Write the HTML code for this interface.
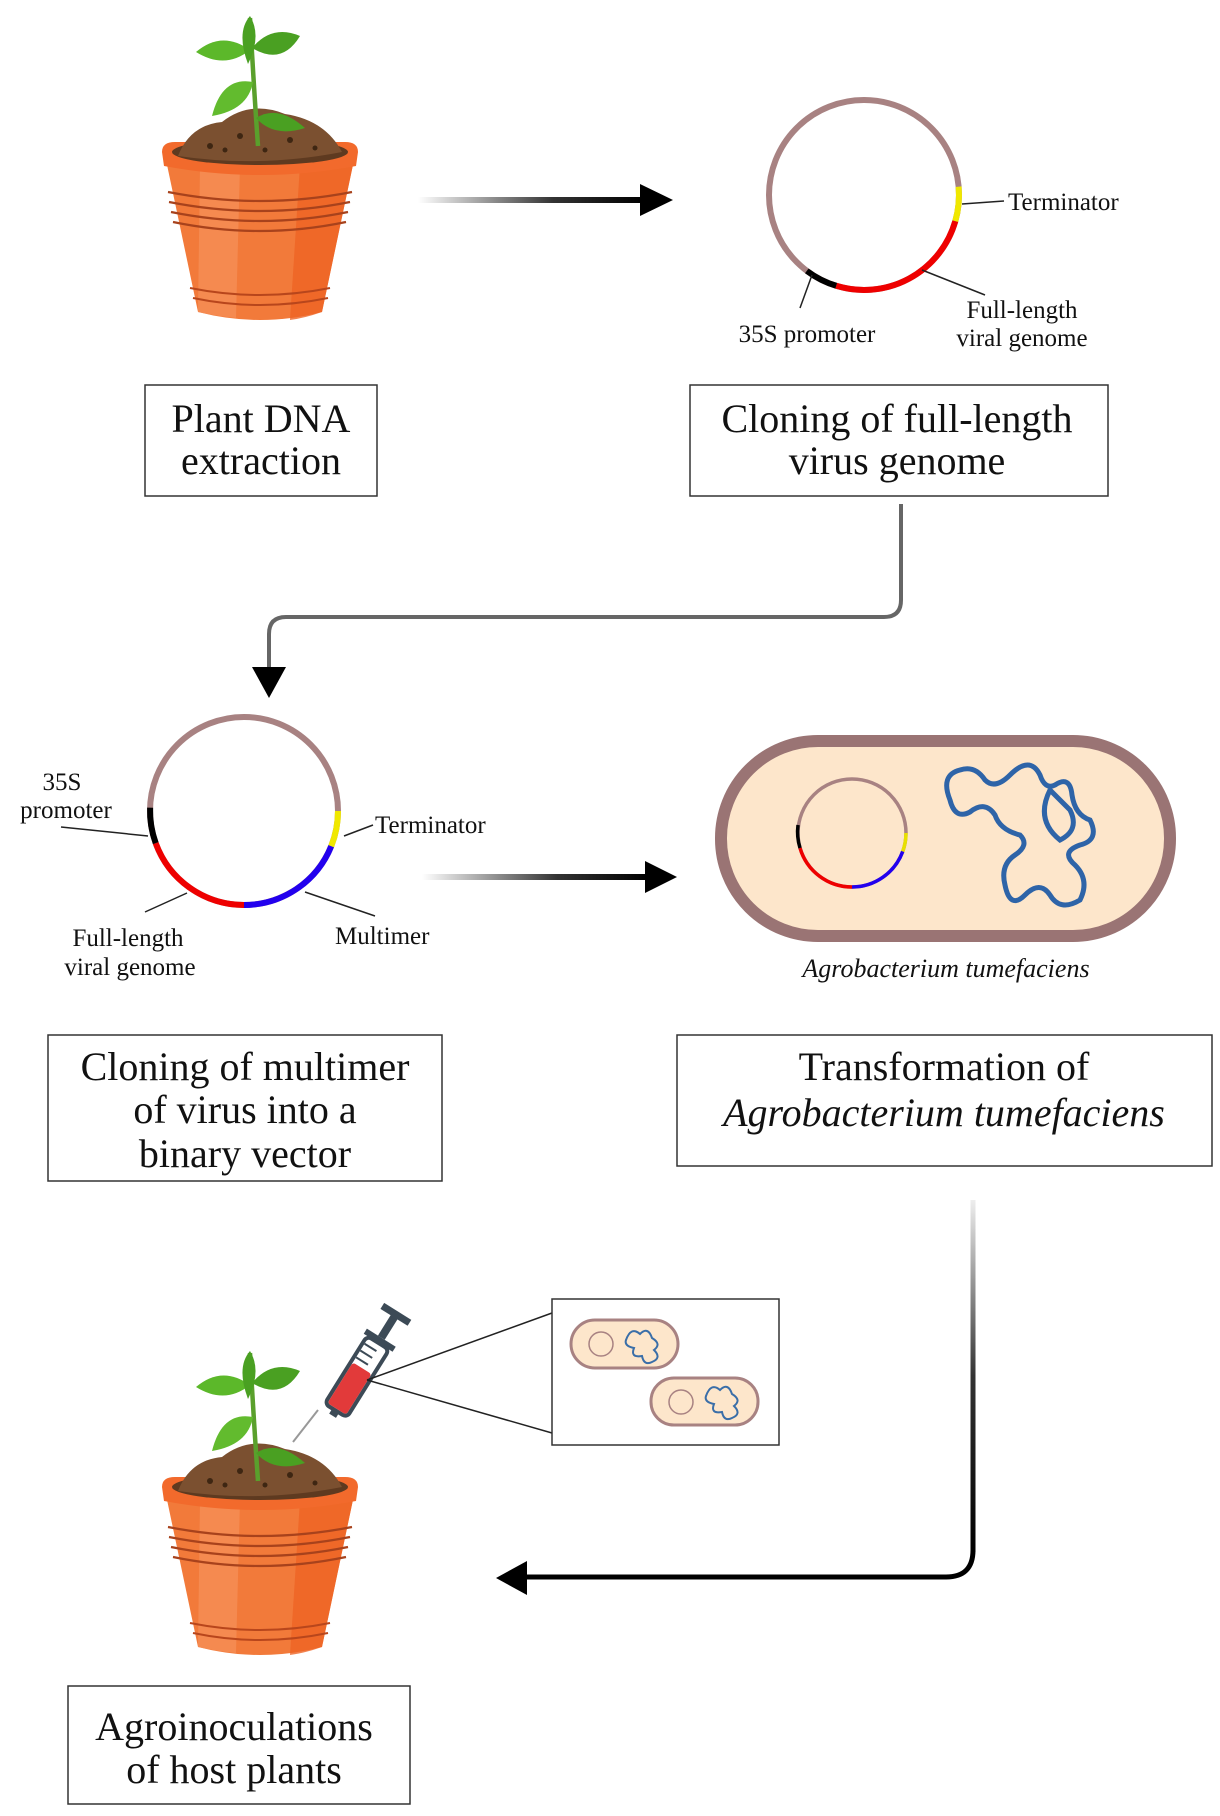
<!DOCTYPE html>
<html><head><meta charset="utf-8"><style>
html,body{margin:0;padding:0;background:#fff;}
svg{display:block;}
text{font-family:"Liberation Serif",serif;fill:#111;}
</style></head><body>
<svg width="1220" height="1816" viewBox="0 0 1220 1816" xmlns="http://www.w3.org/2000/svg">
<defs>
<linearGradient id="ga" x1="0" y1="0" x2="1" y2="0">
<stop offset="0" stop-color="#fff"/><stop offset="0.6" stop-color="#333"/><stop offset="1" stop-color="#000"/></linearGradient>
<linearGradient id="gv2" x1="0" y1="0" x2="0" y2="1">
<stop offset="0" stop-color="#eee"/><stop offset="0.5" stop-color="#333"/><stop offset="1" stop-color="#000"/></linearGradient>
<g id="pot">
<path d="M166,160 L354,160 L322,312 Q260,328 198,312 Z" fill="#f27a3a"/>
<path d="M200,165 L240,165 L236,318 Q215,316 198,312 Z" fill="#f6915a" opacity="0.7"/>
<path d="M300,165 L354,160 L322,312 Q305,318 290,320 Z" fill="#ee6424" opacity="0.8"/>
<path d="M168,192 Q260,210 352,192 M169,202 Q260,220 350,202 M171,212 Q260,230 348,212 M173,222 Q260,240 346,222" stroke="#a8421c" stroke-width="2.2" fill="none"/>
<path d="M190,288 Q260,302 330,288 M193,298 Q260,312 328,298" stroke="#b8461c" stroke-width="2" fill="none"/>
<path d="M162,152 Q162,142 175,142 L345,142 Q358,142 358,152 L356,166 Q260,184 164,166 Z" fill="#f26a2c"/>
<ellipse cx="260" cy="152" rx="88" ry="13" fill="#5e3a20"/>
<path d="M178,156 Q190,125 222,122 Q250,100 285,114 Q325,120 342,152 Q260,168 178,156 Z" fill="#7b5030"/>
<circle cx="210" cy="146" r="3" fill="#3e2612"/><circle cx="240" cy="136" r="3" fill="#3e2612"/><circle cx="290" cy="140" r="3" fill="#3e2612"/><circle cx="315" cy="148" r="2.5" fill="#3e2612"/><circle cx="265" cy="150" r="2.5" fill="#3e2612"/><circle cx="225" cy="150" r="2.5" fill="#3e2612"/>
<path d="M258,146 Q254,90 250,18" stroke="#5aa02c" stroke-width="4.5" fill="none"/>
<path d="M250,50 Q222,30 196,52 Q225,70 250,50 Z" fill="#5cb82a"/>
<path d="M252,48 Q272,24 300,36 Q282,66 252,48 Z" fill="#4aa022"/>
<path d="M250,16 Q236,32 248,64 Q262,36 250,16 Z" fill="#4aa022"/>
<path d="M253,82 Q222,76 212,116 Q248,110 253,82 Z" fill="#62bb2e"/>
<path d="M256,118 Q278,104 305,128 Q274,138 256,118 Z" fill="#4aa022"/>
</g>
</defs>

<use href="#pot"/>
<use href="#pot" transform="translate(0,1335)"/>

<!-- arrow 1 -->
<rect x="418" y="197" width="225" height="6" fill="url(#ga)"/>
<polygon points="640,184 673,200 640,216" fill="#000"/>

<!-- plasmid 1 -->
<circle cx="864" cy="195" r="95" fill="none" stroke="#a88282" stroke-width="6"/>
<path d="M958.6,186.7 A95,95 0 0 1 955.3,221.2" fill="none" stroke="#f0e800" stroke-width="6"/>
<path d="M955.3,221.2 A95,95 0 0 1 836.2,285.8" fill="none" stroke="#ee0000" stroke-width="6"/>
<path d="M836.2,285.8 A95,95 0 0 1 806.8,270.9" fill="none" stroke="#000" stroke-width="6"/>
<line x1="962" y1="204" x2="1004" y2="201" stroke="#222" stroke-width="1.5"/>
<line x1="812" y1="275" x2="800" y2="308" stroke="#222" stroke-width="1.5"/>
<line x1="922" y1="270" x2="985" y2="295" stroke="#222" stroke-width="1.5"/>
<text x="1008" y="210" font-size="25">Terminator</text>
<text x="807" y="342" font-size="25" text-anchor="middle">35S promoter</text>
<text x="1022" y="318" font-size="25" text-anchor="middle">Full-length</text>
<text x="1022" y="346" font-size="25" text-anchor="middle">viral genome</text>

<rect x="145" y="385" width="232" height="111" fill="none" stroke="#333" stroke-width="1.5"/>
<text x="261" y="432" font-size="40" text-anchor="middle">Plant DNA</text>
<text x="261" y="474" font-size="40" text-anchor="middle">extraction</text>
<rect x="690" y="385" width="418" height="111" fill="none" stroke="#333" stroke-width="1.5"/>
<text x="897" y="432" font-size="40" text-anchor="middle">Cloning of full-length</text>
<text x="897" y="474" font-size="40" text-anchor="middle">virus genome</text>

<!-- connector 2 -->
<path d="M901,504 L901,600 Q901,617 884,617 L286,617 Q269,617 269,634 L269,672" fill="none" stroke="#666" stroke-width="4"/>
<polygon points="252,667 286,667 269,698" fill="#000"/>

<!-- plasmid 2 -->
<circle cx="244" cy="811" r="94" fill="none" stroke="#a88282" stroke-width="6"/>
<path d="M338,811 A94,94 0 0 1 331.2,846.2" fill="none" stroke="#f0e800" stroke-width="6"/>
<path d="M331.2,846.2 A94,94 0 0 1 244,905" fill="none" stroke="#2200ee" stroke-width="6"/>
<path d="M244,905 A94,94 0 0 1 155.7,843.1" fill="none" stroke="#ee0000" stroke-width="6"/>
<path d="M155.7,843.1 A94,94 0 0 1 150.1,807.7" fill="none" stroke="#000" stroke-width="6"/>
<line x1="61" y1="827" x2="148" y2="836" stroke="#222" stroke-width="1.5"/>
<line x1="344" y1="836" x2="373" y2="825" stroke="#222" stroke-width="1.5"/>
<line x1="305" y1="892" x2="375" y2="916" stroke="#222" stroke-width="1.5"/>
<line x1="187" y1="893" x2="145" y2="912" stroke="#222" stroke-width="1.5"/>
<text x="62" y="790" font-size="25" text-anchor="middle">35S</text>
<text x="66" y="818" font-size="25" text-anchor="middle">promoter</text>
<text x="375" y="833" font-size="25">Terminator</text>
<text x="335" y="944" font-size="25">Multimer</text>
<text x="128" y="946" font-size="25" text-anchor="middle">Full-length</text>
<text x="130" y="975" font-size="25" text-anchor="middle">viral genome</text>

<!-- arrow 3 -->
<rect x="422" y="874" width="225" height="6" fill="url(#ga)"/>
<polygon points="645,861 677,877 645,893" fill="#000"/>

<!-- bacterium -->
<rect x="721" y="741" width="449" height="195" rx="97" fill="#fde6cb" stroke="#9a7474" stroke-width="12"/>
<circle cx="852" cy="833" r="54" fill="none" stroke="#a88282" stroke-width="3.5"/>
<path d="M906,833 A54,54 0 0 1 902.7,851.5" fill="none" stroke="#e8e000" stroke-width="3.5"/>
<path d="M902.7,851.5 A54,54 0 0 1 852,887" fill="none" stroke="#2200ee" stroke-width="3.5"/>
<path d="M852,887 A54,54 0 0 1 800,848" fill="none" stroke="#ee0000" stroke-width="3.5"/>
<path d="M800,848 A54,54 0 0 1 798,825" fill="none" stroke="#000" stroke-width="3.5"/>
<path d="M950,800 Q940,775 960,770 Q975,765 985,780 Q995,790 1010,775 Q1030,755 1040,775 Q1045,790 1055,785 Q1070,775 1072,795 Q1075,815 1090,820 Q1100,840 1080,845 Q1060,852 1075,865 Q1090,880 1080,900 Q1060,912 1050,895 Q1040,880 1025,895 Q1010,910 1005,885 Q1000,865 1015,855 Q1030,845 1020,835 Q1000,830 995,815 Q985,800 970,812 Q955,820 950,800 Z M1050,790 Q1035,820 1060,840 Q1080,830 1070,810 Z" fill="none" stroke="#2e64a8" stroke-width="5"/>
<text x="946" y="977" font-size="26" font-style="italic" text-anchor="middle">Agrobacterium tumefaciens</text>

<rect x="48" y="1035" width="394" height="146" fill="none" stroke="#333" stroke-width="1.5"/>
<text x="245" y="1080" font-size="40" text-anchor="middle">Cloning of multimer</text>
<text x="245" y="1123" font-size="40" text-anchor="middle">of virus into a</text>
<text x="245" y="1167" font-size="40" text-anchor="middle">binary vector</text>
<rect x="677" y="1035" width="535" height="131" fill="none" stroke="#333" stroke-width="1.5"/>
<text x="944" y="1080" font-size="40" text-anchor="middle">Transformation of</text>
<text x="944" y="1126" font-size="40" font-style="italic" text-anchor="middle">Agrobacterium tumefaciens</text>

<!-- connector 4 -->
<rect x="970.5" y="1200" width="5" height="352" fill="url(#gv2)"/>
<path d="M973,1550 Q973,1577 946,1577 L520,1577" fill="none" stroke="#000" stroke-width="5"/>
<polygon points="527,1561 496,1578 527,1595" fill="#000"/>

<!-- syringe -->
<line x1="293" y1="1442" x2="318" y2="1410" stroke="#999" stroke-width="2"/>
<g transform="translate(358,1375) rotate(-58)">
<rect x="-42" y="-13" width="80" height="26" rx="5" fill="#fff" stroke="#3c4a56" stroke-width="4"/>
<rect x="-40" y="-11" width="48" height="22" rx="3" fill="#e23a3a"/>
<line x1="14" y1="-11" x2="14" y2="3" stroke="#3c4a56" stroke-width="2"/>
<line x1="22" y1="-11" x2="22" y2="3" stroke="#3c4a56" stroke-width="2"/>
<line x1="30" y1="-11" x2="30" y2="3" stroke="#3c4a56" stroke-width="2"/>
<rect x="-48" y="-4" width="7" height="8" fill="#3c4a56"/>
<rect x="38" y="-17" width="6" height="34" fill="#3c4a56"/>
<rect x="44" y="-4" width="26" height="8" fill="#3c4a56"/>
<rect x="68" y="-16" width="7" height="32" fill="#3c4a56"/>
</g>
<line x1="367" y1="1380" x2="552" y2="1313" stroke="#222" stroke-width="1.5"/>
<line x1="367" y1="1380" x2="552" y2="1433" stroke="#222" stroke-width="1.5"/>

<!-- inset -->
<rect x="552" y="1299" width="227" height="146" fill="#fff" stroke="#333" stroke-width="1.5"/>
<rect x="571" y="1320" width="107" height="48" rx="24" fill="#fde6cb" stroke="#a88282" stroke-width="3"/>
<circle cx="601" cy="1344" r="12" fill="none" stroke="#a88282" stroke-width="1.5"/>
<path d="M626,1340 q5,-14 14,-6 q8,-8 12,4 q10,6 2,12 q8,8 -2,12 q-8,4 -10,-6 q-12,2 -8,-8 q-10,-2 -8,-8" fill="none" stroke="#3a6ea8" stroke-width="2"/>
<rect x="651" y="1378" width="107" height="47" rx="23" fill="#fde6cb" stroke="#a88282" stroke-width="3"/>
<circle cx="681" cy="1402" r="12" fill="none" stroke="#a88282" stroke-width="1.5"/>
<path d="M706,1396 q5,-14 14,-6 q8,-8 12,4 q10,6 2,12 q8,8 -2,12 q-8,4 -10,-6 q-12,2 -8,-8 q-10,-2 -8,-8" fill="none" stroke="#3a6ea8" stroke-width="2"/>

<rect x="68" y="1686" width="342" height="118" fill="none" stroke="#333" stroke-width="1.5"/>
<text x="234" y="1740" font-size="40" text-anchor="middle">Agroinoculations</text>
<text x="234" y="1783" font-size="40" text-anchor="middle">of host plants</text>
</svg>
</body></html>
